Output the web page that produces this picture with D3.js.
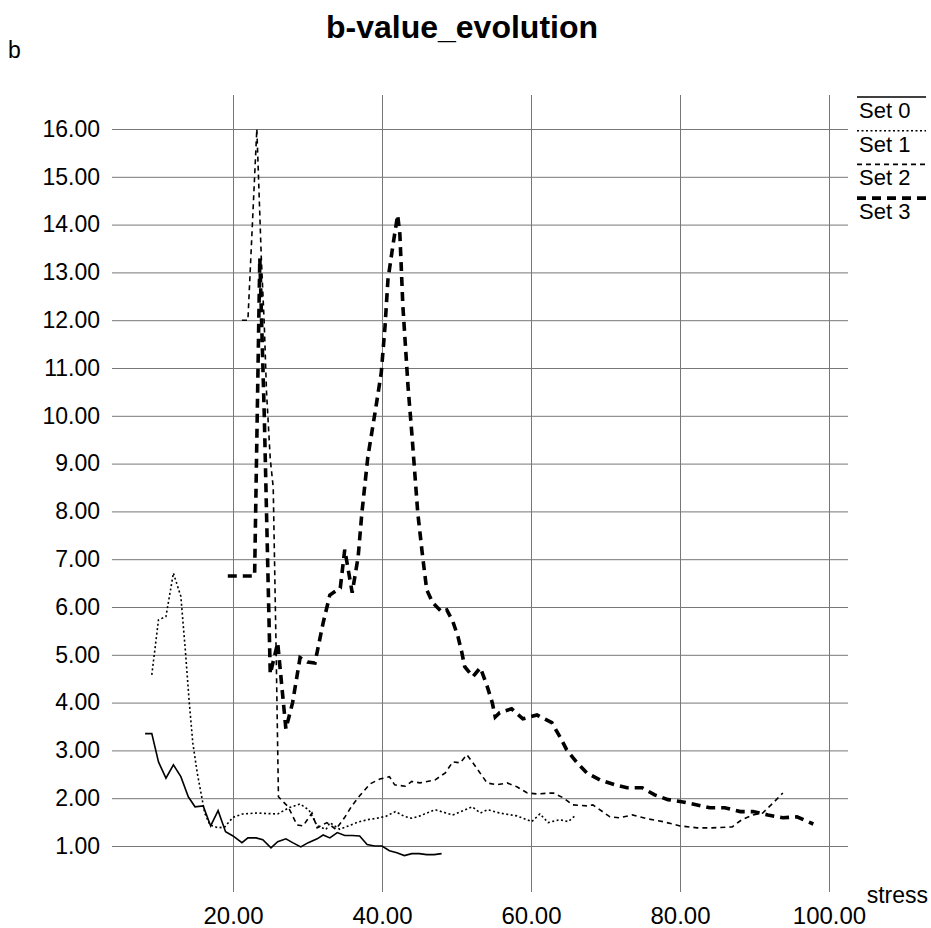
<!DOCTYPE html>
<html>
<head>
<meta charset="utf-8">
<script src="https://cdn.jsdelivr.net/npm/d3@7"></script>
<style>
  body { margin: 0; background: white; }
  text { font-family: "Liberation Sans", Arial, Helvetica, sans-serif; fill: black; }
</style>
</head>
<body>
<div id="putGraphic"></div>
<script>
var xTicks = [20, 40, 60, 80, 100];
var yTicks = [1, 2, 3, 4, 5, 6, 7, 8, 9, 10, 11, 12, 13, 14, 15, 16];
var setNames = ["Set 0", "Set 1", "Set 2", "Set 3"];

var stress0 = [8.2, 9.1, 10.0, 11.0, 12.0, 13.0, 14.0, 14.9, 16.0, 17.0, 18.0, 19.0, 20.0, 21.2, 22.0, 23.1, 24.0, 25.1, 26.0, 27.1, 28.0, 29.1, 30.1, 31.3, 32.1, 33.0, 34.0, 35.0, 36.0, 37.0, 38.0, 39.0, 40.0, 41.0, 42.0, 43.0, 44.0, 45.0, 46.0, 47.0, 48.0];
var b0 = [3.35, 3.35, 2.76, 2.42, 2.70, 2.45, 2.03, 1.82, 1.84, 1.42, 1.74, 1.30, 1.21, 1.07, 1.17, 1.17, 1.13, 0.96, 1.09, 1.15, 1.07, 0.98, 1.07, 1.15, 1.23, 1.17, 1.28, 1.22, 1.22, 1.21, 1.03, 1.00, 1.00, 0.90, 0.86, 0.80, 0.84, 0.84, 0.82, 0.82, 0.84];

var stress1 = [9.1, 10.0, 11.0, 12.0, 13.0, 13.6, 14.1, 14.6, 15.2, 15.7, 16.2, 16.9, 18.0, 18.9, 20.0, 21.3, 23.2, 24.5, 26.0, 27.5, 29.0, 30.2, 31.3, 32.5, 33.0, 34.3, 35.5, 36.8, 38.0, 39.3, 40.5, 41.8, 43.0, 44.0, 45.1, 47.1, 49.5, 52.1, 53.2, 54.2, 55.8, 58.1, 60.1, 61.2, 62.3, 63.9, 65.0, 65.9];
var b1 = [4.58, 5.73, 5.80, 6.71, 6.22, 5.10, 4.06, 3.16, 2.53, 2.11, 1.69, 1.44, 1.38, 1.40, 1.60, 1.67, 1.69, 1.68, 1.67, 1.80, 1.88, 1.75, 1.42, 1.35, 1.49, 1.35, 1.42, 1.50, 1.55, 1.58, 1.62, 1.72, 1.62, 1.58, 1.63, 1.76, 1.65, 1.82, 1.69, 1.76, 1.69, 1.63, 1.51, 1.67, 1.49, 1.55, 1.51, 1.63];

var stress2 = [21.2, 22.0, 23.2, 23.8, 24.2, 24.5, 25.0, 25.4, 25.8, 26.1, 27.4, 28.6, 29.4, 30.6, 31.3, 32.6, 33.8, 35.0, 36.0, 37.0, 38.4, 39.7, 41.0, 41.7, 43.1, 44.0, 45.1, 47.1, 48.5, 49.5, 50.5, 51.4, 52.2, 54.1, 55.4, 56.8, 58.1, 59.5, 60.8, 63.0, 64.3, 65.6, 67.5, 68.3, 70.6, 71.9, 73.6, 75.6, 77.7, 80.0, 82.3, 84.3, 87.0, 88.3, 89.8, 91.1, 92.5, 93.8];
var b2 = [12.0, 12.0, 16.0, 13.3, 11.9, 10.5, 9.1, 8.5, 5.0, 2.03, 1.82, 1.44, 1.42, 1.69, 1.38, 1.49, 1.35, 1.60, 1.85, 2.05, 2.30, 2.40, 2.45, 2.28, 2.25, 2.35, 2.32, 2.38, 2.53, 2.76, 2.74, 2.91, 2.74, 2.32, 2.28, 2.32, 2.24, 2.11, 2.09, 2.11, 2.01, 1.86, 1.84, 1.86, 1.61, 1.59, 1.65, 1.57, 1.51, 1.42, 1.38, 1.38, 1.40, 1.55, 1.65, 1.69, 1.90, 2.11];

var stress3 = [19.3, 22.9, 23.6, 24.2, 25.0, 26.0, 27.1, 28.0, 29.0, 30.0, 31.0, 32.1, 33.0, 34.4, 35.0, 36.0, 36.8, 37.3, 38.1, 39.1, 39.9, 40.4, 40.8, 41.5, 42.1, 42.4, 42.8, 43.5, 44.0, 44.8, 45.4, 46.0, 46.8, 48.0, 48.7, 49.5, 50.2, 50.7, 51.1, 52.2, 53.2, 54.1, 54.8, 55.2, 55.8, 57.4, 58.9, 60.8, 62.8, 63.9, 64.8, 66.2, 67.5, 69.3, 71.3, 72.9, 74.9, 76.6, 78.4, 80.4, 82.3, 84.0, 86.0, 88.1, 89.8, 91.8, 93.8, 95.7, 97.9];
var b3 = [6.65, 6.65, 13.3, 10.0, 4.6, 5.25, 3.45, 4.0, 4.94, 4.85, 4.83, 5.67, 6.25, 6.4, 7.2, 6.3, 7.05, 7.97, 9.14, 10.1, 10.9, 11.86, 12.85, 13.6, 14.2, 13.8, 12.3, 10.6, 9.64, 7.97, 7.13, 6.36, 6.09, 5.90, 5.94, 5.70, 5.38, 5.06, 4.75, 4.54, 4.73, 4.35, 4.0, 3.7, 3.79, 3.87, 3.66, 3.74, 3.58, 3.28, 3.01, 2.74, 2.53, 2.38, 2.28, 2.22, 2.22, 2.07, 1.97, 1.92, 1.86, 1.80, 1.80, 1.72, 1.72, 1.65, 1.59, 1.61, 1.46];

function draw() {
    var width = 931;
    var height = 928;
    var left = 112, right = 848, top = 95, bottom = 892;

    var x_scale = d3.scaleLinear().domain([20, 100]).range([233, 829]);
    var y_scale = d3.scaleLinear().domain([1, 16]).range([846, 129]);

    var svg = d3.select("#putGraphic")
        .append("svg")
        .attr("width", width)
        .attr("height", height)
        .style("background", "white")
        .attr("id", "svg");

    var y_axis = d3.axisLeft(y_scale)
        .tickValues(yTicks)
        .tickSize(-(right - left))
        .tickPadding(12)
        .tickFormat(d3.format(".2f"));
    var x_axis = d3.axisBottom(x_scale)
        .tickValues(xTicks)
        .tickSize(-(bottom - top))
        .tickPadding(15)
        .tickFormat(d3.format(".2f"));

    var gy = svg.append("g").attr("transform", "translate(" + left + ",0)").call(y_axis);
    var gx = svg.append("g").attr("transform", "translate(0," + bottom + ")").call(x_axis);
    gy.select(".domain").remove();
    gx.select(".domain").remove();
    gy.selectAll("line").attr("stroke", "#777").attr("stroke-width", 1);
    gx.selectAll("line").attr("stroke", "#777").attr("stroke-width", 1);
    gy.selectAll("text").attr("font-size", "23px").attr("font-family", "Liberation Sans, Arial, sans-serif").attr("fill", "black");
    gx.selectAll("text").attr("font-size", "24px").attr("font-family", "Liberation Sans, Arial, sans-serif").attr("fill", "black");

    var sets = [
        { x: stress0, y: b0, dash: null, w: 1.6 },
        { x: stress1, y: b1, dash: "2,2.5", w: 1.6 },
        { x: stress2, y: b2, dash: "5,4", w: 1.6 },
        { x: stress3, y: b3, dash: "9,6", w: 3.6 }
    ];

    var line = d3.line()
        .x(function (d) { return x_scale(d[0]); })
        .y(function (d) { return y_scale(d[1]); });

    sets.forEach(function (s) {
        var pts = s.x.map(function (v, i) { return [v, s.y[i]]; });
        svg.append("path")
            .attr("d", line(pts))
            .attr("fill", "none")
            .attr("stroke", "black")
            .attr("stroke-width", s.w)
            .attr("stroke-dasharray", s.dash);
    });

    // legend
    setNames.forEach(function (name, i) {
        var ly = 97 + i * 33.7;
        svg.append("line")
            .attr("x1", 857).attr("x2", 926)
            .attr("y1", ly).attr("y2", ly)
            .attr("stroke", "black")
            .attr("stroke-width", sets[i].w)
            .attr("stroke-dasharray", sets[i].dash);
        svg.append("text")
            .attr("x", 859)
            .attr("y", ly + 21)
            .attr("font-size", "22px")
            .text(name);
    });

    svg.append("text")
        .attr("x", 462)
        .attr("y", 38)
        .attr("text-anchor", "middle")
        .attr("font-size", "32px")
        .attr("font-weight", "bold")
        .text("b-value_evolution");

    svg.append("text")
        .attr("x", 8)
        .attr("y", 58)
        .attr("font-size", "23px")
        .text("b");

    svg.append("text")
        .attr("x", 928)
        .attr("y", 903)
        .attr("text-anchor", "end")
        .attr("font-size", "23px")
        .text("stress");
}

draw();
</script>
</body>
</html>
